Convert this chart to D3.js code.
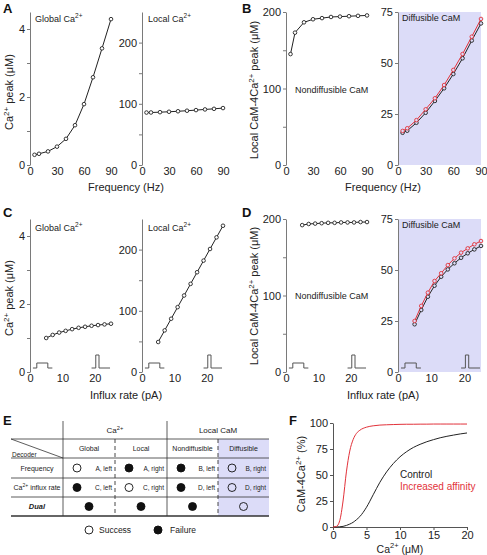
<!DOCTYPE html>
<html><head><meta charset="utf-8">
<script src="https://cdn.jsdelivr.net/npm/d3@7"></script>
<style>body{margin:0;background:#fff}svg{display:block;font-family:"Liberation Sans",Arial,Helvetica,sans-serif}</style>
</head><body>
<script>
// ---------------- DATA ----------------
const freqHz = [5,10,20,30,40,50,60,70,80,90];
const globalCaFreq = [0.30,0.33,0.40,0.54,0.77,1.17,1.79,2.58,3.43,4.29];
const localCaFreq = [85.7,85.8,86.3,87,87.8,88.7,89.7,90.8,91.8,93];
const nondiffCaMFreq = [145,173,186.5,190.5,192,193.5,194,194.5,195,195.5];
const diffCaMFreqControl = [15.8,16.8,20.7,25.6,31.4,37.6,44.6,52.3,61,69.4];
const diffCaMFreqAffinity = [16.7,18,22,27.3,32.7,39.2,46.6,54.4,62.9,71.6];

const influxPA = [5,7,9,11,13,15,17,19,21,23,25];
const globalCaInflux = [1.0,1.09,1.16,1.21,1.26,1.30,1.33,1.36,1.38,1.40,1.42];
const localCaInflux = [49,68,87,106,125,144,163,182,201,220,239];
const nondiffCaMInflux = [192,193.5,194,194.5,195,195,195.5,195.5,195.5,196,196];
const diffCaMInfluxControl = [23.4,30.4,36.9,42.3,46.7,50.3,53.3,56,58.2,60.1,61.8];
const diffCaMInfluxAffinity = [25,32.4,38.9,44.6,48.4,52.4,55.7,58.5,60.6,62.6,64.2];

const freqTicks = [0,30,60,90];
const influxTicks = [0,10,20];
const caTicks = [0,1,2,3,4], caTickLabels = [0,2,4];
const localTicks = [0,50,100,150,200], localTickLabels = [0,100,200];
const diffTicks = [0,25,50,75];

// pulse icons (pA positions; low-wide and high-narrow)
const pulseWideX = [0.9,2.1,5.5,6.9];
const pulseNarrowX = [19,20.3,21.3,24.7];

// Table E
const tableGroups = ["Ca", "Local CaM"];
const tableColumns = ["Global","Local","Nondiffusible","Diffusible"];
const tableRows = ["Frequency","influx rate","Dual"];
const tableSuccess = [[1,0,0,1],[0,1,0,1],[0,0,0,1]];
const tableRefs = [["A, left","A, right","B, left","B, right"],["C, left","C, right","D, left","D, right"]];

// Panel F
const caConc = [0,0.5,1,1.5,2,2.5,3,3.5,4,5,6,7,8,9,10,11,12,13,14,15,16,17,18,19,20];
const camControl = [0,0,0.2,0.6,1.5,2.8,4.5,7,10,19,31,43,53,61,67.5,72.5,76.5,79.5,82,84,85.8,87.2,88.4,89.5,90.4];
const camAffinity = [0,0.5,6,25,53,73,84,90,93,96,97.3,98,98.3,98.5,98.7,98.8,98.8,98.9,98.9,99,99,99,99,99,99];
const fXTicks = [0,5,10,15,20];
const fYTicks = [0,25,50,75,100];

// ---------------- DRAW ----------------
const W = 487, H = 555;
const RED = "#e2323a", INK = "#222", AX = "#7a7a7a", SHADE = "#dcdcf8";
const svg = d3.select("body").append("svg").attr("width", W).attr("height", H);

function rich(g, o, segs) {
  const t = g.append("text").attr("x", o.x).attr("y", o.y)
    .attr("font-size", o.fs).attr("text-anchor", o.anchor || "start")
    .attr("fill", o.color || INK);
  if (o.weight) t.attr("font-weight", o.weight);
  if (o.style) t.attr("font-style", o.style);
  if (o.rotate) t.attr("transform", `rotate(-90,${o.x},${o.y})`);
  let shifted = false;
  segs.forEach(s => {
    const sup = typeof s !== "string";
    const ts = t.append("tspan").text(sup ? s.sup : s);
    if (sup) { ts.attr("font-size", o.fs * 0.72).attr("dy", -o.fs * 0.4); shifted = true; }
    else if (shifted) { ts.attr("dy", o.fs * 0.4); shifted = false; }
  });
  return t;
}

function panel(p) {
  const g = svg.append("g");
  const x = d3.scaleLinear().domain(p.xDomain).range(p.xRange);
  const y = d3.scaleLinear().domain(p.yDomain).range(p.yRange);
  const bg = p.shade ? SHADE : "#fff";
  if (p.shade) {
    g.append("rect").attr("x", p.xRange[0]).attr("y", p.yRange[1])
      .attr("width", p.xRange[1] - p.xRange[0]).attr("height", p.yRange[0] - p.yRange[1])
      .attr("fill", SHADE);
  }
  const ya = g.append("g").attr("transform", `translate(${p.xRange[0]},0)`)
    .call(d3.axisLeft(y).tickValues(p.yTicks).tickSize(3).tickSizeOuter(0).tickPadding(2)
      .tickFormat(d => p.yLabels.includes(d) ? d : ""));
  ya.select(".domain").attr("stroke", AX);
  ya.selectAll(".tick line").attr("stroke", AX);
  ya.selectAll(".tick text").attr("font-size", 11).attr("fill", INK).attr("font-family", null);
  const xa = g.append("g").attr("transform", `translate(0,${p.yRange[0]})`)
    .call(d3.axisBottom(x).tickValues(p.xTicks).tickSize(0).tickPadding(2));
  xa.select(".domain").remove();
  xa.selectAll(".tick text").attr("font-size", 11).attr("fill", INK).attr("font-family", null);
  if (p.pulses) {
    const b = p.yRange[0];
    const pl = d3.line();
    const wide = [[pulseWideX[0], b-4],[pulseWideX[1], b-4],[pulseWideX[1], b-9],[pulseWideX[2], b-9],[pulseWideX[2], b-4],[pulseWideX[3], b-4]];
    const narrow = [[pulseNarrowX[0], b-4],[pulseNarrowX[1], b-4],[pulseNarrowX[1], b-17],[pulseNarrowX[2], b-17],[pulseNarrowX[2], b-4],[pulseNarrowX[3], b-4]];
    [wide, narrow].forEach(pts => g.append("path")
      .attr("d", pl(pts.map(d => [x(d[0]), d[1]])))
      .attr("fill", "none").attr("stroke", "#555").attr("stroke-width", 1));
  }
  p.series.forEach(s => {
    const pts = s.x.map((v, i) => [v, s.y[i]]);
    g.append("path").attr("d", d3.line().x(d => x(d[0])).y(d => y(d[1]))(pts))
      .attr("fill", "none").attr("stroke", s.color).attr("stroke-width", 1);
    g.selectAll(null).data(pts).join("circle")
      .attr("cx", d => x(d[0])).attr("cy", d => y(d[1])).attr("r", 1.8)
      .attr("fill", bg).attr("stroke", s.color).attr("stroke-width", 0.9);
  });
  return { g, x, y };
}

const rowTop = [165, 12], rowBot = [372, 219];
const cAL = [30, 111], cAR = [142, 223], cBL = [286, 367], cBR = [398, 481];

panel({ xRange: cAL, yRange: rowTop, xDomain: [0,90], yDomain: [0,4.5], xTicks: freqTicks, yTicks: caTicks, yLabels: caTickLabels,
  series: [{ x: freqHz, y: globalCaFreq, color: INK }] });
panel({ xRange: cAR, yRange: rowTop, xDomain: [0,90], yDomain: [0,250], xTicks: freqTicks, yTicks: localTicks, yLabels: localTickLabels,
  series: [{ x: freqHz, y: localCaFreq, color: INK }] });
panel({ xRange: cBL, yRange: rowTop, xDomain: [0,90], yDomain: [0,200], xTicks: freqTicks, yTicks: localTicks, yLabels: localTickLabels,
  series: [{ x: freqHz, y: nondiffCaMFreq, color: INK }] });
panel({ xRange: cBR, yRange: rowTop, xDomain: [0,90], yDomain: [0,75], xTicks: freqTicks, yTicks: diffTicks, yLabels: diffTicks, shade: true,
  series: [{ x: freqHz, y: diffCaMFreqControl, color: INK }, { x: freqHz, y: diffCaMFreqAffinity, color: RED }] });

panel({ xRange: cAL, yRange: rowBot, xDomain: [0,25], yDomain: [0,4.5], xTicks: influxTicks, yTicks: caTicks, yLabels: caTickLabels, pulses: true,
  series: [{ x: influxPA, y: globalCaInflux, color: INK }] });
panel({ xRange: cAR, yRange: rowBot, xDomain: [0,25], yDomain: [0,250], xTicks: influxTicks, yTicks: localTicks, yLabels: localTickLabels, pulses: true,
  series: [{ x: influxPA, y: localCaInflux, color: INK }] });
panel({ xRange: cBL, yRange: rowBot, xDomain: [0,25], yDomain: [0,200], xTicks: influxTicks, yTicks: localTicks, yLabels: localTickLabels, pulses: true,
  series: [{ x: influxPA, y: nondiffCaMInflux, color: INK }] });
panel({ xRange: cBR, yRange: rowBot, xDomain: [0,25], yDomain: [0,75], xTicks: influxTicks, yTicks: diffTicks, yLabels: diffTicks, shade: true, pulses: true,
  series: [{ x: influxPA, y: diffCaMInfluxControl, color: INK }, { x: influxPA, y: diffCaMInfluxAffinity, color: RED }] });

const L = svg.append("g");
[["A",3,13],["B",242,13],["C",3,217],["D",242,217],["E",3,425],["F",289,425]].forEach(([t,x,y]) =>
  L.append("text").attr("x", x).attr("y", y).attr("font-size", 13).attr("font-weight", "bold").attr("fill", "#111").text(t));

[[35,22],[35,231]].forEach(([x,y]) => rich(L, {x, y, fs: 9}, ["Global Ca", {sup:"2+"}]));
[[148,22],[148,231]].forEach(([x,y]) => rich(L, {x, y, fs: 9}, ["Local Ca", {sup:"2+"}]));
[[295,93],[295,299]].forEach(([x,y]) => rich(L, {x, y, fs: 9}, ["Nondiffusible CaM"]));
[[402,21],[402,228]].forEach(([x,y]) => rich(L, {x, y, fs: 9}, ["Diffusible CaM"]));

rich(L, {x: 126, y: 191, fs: 11, anchor: "middle"}, ["Frequency (Hz)"]);
rich(L, {x: 383, y: 191, fs: 11, anchor: "middle"}, ["Frequency (Hz)"]);
rich(L, {x: 126, y: 399, fs: 11, anchor: "middle"}, ["Influx rate (pA)"]);
rich(L, {x: 383, y: 399, fs: 11, anchor: "middle"}, ["Influx rate (pA)"]);

rich(L, {x: 13, y: 92, fs: 11, anchor: "middle", rotate: true}, ["Ca", {sup:"2+"}, " peak (μM)"]);
rich(L, {x: 13, y: 298, fs: 11, anchor: "middle", rotate: true}, ["Ca", {sup:"2+"}, " peak (μM)"]);
rich(L, {x: 258, y: 90, fs: 11, anchor: "middle", rotate: true}, ["Local CaM-4Ca", {sup:"2+"}, " peak (μM)"]);
rich(L, {x: 258, y: 296, fs: 11, anchor: "middle", rotate: true}, ["Local CaM-4Ca", {sup:"2+"}, " peak (μM)"]);

// ---------------- Table E ----------------
const T = svg.append("g");
const colB = [11, 63, 115, 167, 218, 269];
const rowB = [421, 439, 458, 478, 497, 516];
T.append("rect").attr("x", colB[4]).attr("y", rowB[1]).attr("width", colB[5]-colB[4]).attr("height", rowB[5]-rowB[1]).attr("fill", SHADE);
const TL = "#333";
[1,2,3,4].forEach(i => T.append("line").attr("x1", colB[0]).attr("x2", colB[5]).attr("y1", rowB[i]).attr("y2", rowB[i]).attr("stroke", TL).attr("stroke-width", 0.8));
T.append("line").attr("x1", colB[0]).attr("x2", colB[5]).attr("y1", rowB[5]).attr("y2", rowB[5]).attr("stroke", TL).attr("stroke-width", 1.3);
[1,3].forEach(i => T.append("line").attr("x1", colB[i]).attr("x2", colB[i]).attr("y1", rowB[0]).attr("y2", rowB[5]).attr("stroke", TL).attr("stroke-width", 0.8));
[2,4].forEach(i => T.append("line").attr("x1", colB[i]).attr("x2", colB[i]).attr("y1", rowB[1]).attr("y2", rowB[5]).attr("stroke", TL).attr("stroke-width", 0.9).attr("stroke-dasharray", "4,3"));
T.append("line").attr("x1", colB[0]).attr("y1", rowB[1]).attr("x2", colB[1]).attr("y2", rowB[2]).attr("stroke", TL).attr("stroke-width", 0.8);

rich(T, {x: (colB[1]+colB[3])/2, y: 433, fs: 8, anchor: "middle"}, [tableGroups[0], {sup:"2+"}]);
rich(T, {x: (colB[3]+colB[5])/2, y: 433, fs: 8, anchor: "middle"}, [tableGroups[1]]);
rich(T, {x: 12, y: 457, fs: 6.5}, ["Decoder"]);
tableColumns.forEach((c, i) => rich(T, {x: (colB[i+1]+colB[i+2])/2, y: 451, fs: 7, anchor: "middle"}, [c]));
const rowMid = [468, 487.5, 506.5];
rich(T, {x: 37, y: rowMid[0]+2.5, fs: 7, anchor: "middle"}, [tableRows[0]]);
rich(T, {x: 37, y: rowMid[1]+2.5, fs: 7, anchor: "middle"}, ["Ca", {sup:"2+"}, " " + tableRows[1]]);
rich(T, {x: 37, y: rowMid[2]+2.5, fs: 7.5, anchor: "middle", weight: "bold", style: "italic"}, [tableRows[2]]);
tableSuccess.forEach((row, r) => row.forEach((s, c) => {
  const l = colB[c+1], rr = colB[c+2];
  const cx = r < 2 ? l + 14 : (l + rr) / 2;
  T.append("circle").attr("cx", cx).attr("cy", rowMid[r]).attr("r", 4)
    .attr("fill", s ? "none" : "#111").attr("stroke", "#111").attr("stroke-width", 0.9);
  if (r < 2) rich(T, {x: rr - 3, y: rowMid[r] + 2.5, fs: 6.5, anchor: "end"}, [tableRefs[r][c]]);
}));
T.append("circle").attr("cx", 89).attr("cy", 530).attr("r", 4).attr("fill", "none").attr("stroke", "#111").attr("stroke-width", 0.9);
rich(T, {x: 99, y: 533, fs: 8.5}, ["Success"]);
T.append("circle").attr("cx", 158).attr("cy", 530).attr("r", 4).attr("fill", "#111").attr("stroke", "#111");
rich(T, {x: 170, y: 533, fs: 8.5}, ["Failure"]);

// ---------------- Panel F ----------------
const F = svg.append("g");
const fx = d3.scaleLinear().domain([0,20]).range([333, 467]);
const fy = d3.scaleLinear().domain([0,100]).range([527, 423]);
const fya = F.append("g").attr("transform", "translate(333,0)")
  .call(d3.axisLeft(fy).tickValues(fYTicks).tickSize(3).tickSizeOuter(0).tickPadding(2));
const fxa = F.append("g").attr("transform", "translate(0,527)")
  .call(d3.axisBottom(fx).tickValues(fXTicks).tickSize(3).tickSizeOuter(0).tickPadding(1));
[fya, fxa].forEach(a => {
  a.select(".domain").attr("stroke", "#555");
  a.selectAll(".tick line").attr("stroke", "#555");
  a.selectAll(".tick text").attr("font-size", 11).attr("fill", INK).attr("font-family", null);
});
const fl = d3.line().x((d,i) => fx(caConc[i])).y(d => fy(d)).curve(d3.curveMonotoneX);
F.append("path").attr("d", fl(camControl)).attr("fill", "none").attr("stroke", INK).attr("stroke-width", 1);
F.append("path").attr("d", fl(camAffinity)).attr("fill", "none").attr("stroke", RED).attr("stroke-width", 1);
rich(F, {x: 400, y: 478, fs: 10}, ["Control"]);
rich(F, {x: 400, y: 490, fs: 10, color: RED}, ["Increased affinity"]);
rich(F, {x: 400, y: 552.5, fs: 10.5, anchor: "middle"}, ["Ca", {sup:"2+"}, " (μM)"]);
rich(F, {x: 305, y: 474, fs: 11, anchor: "middle", rotate: true}, ["CaM-4Ca", {sup:"2+"}, " (%)"]);
</script>
</body></html>
